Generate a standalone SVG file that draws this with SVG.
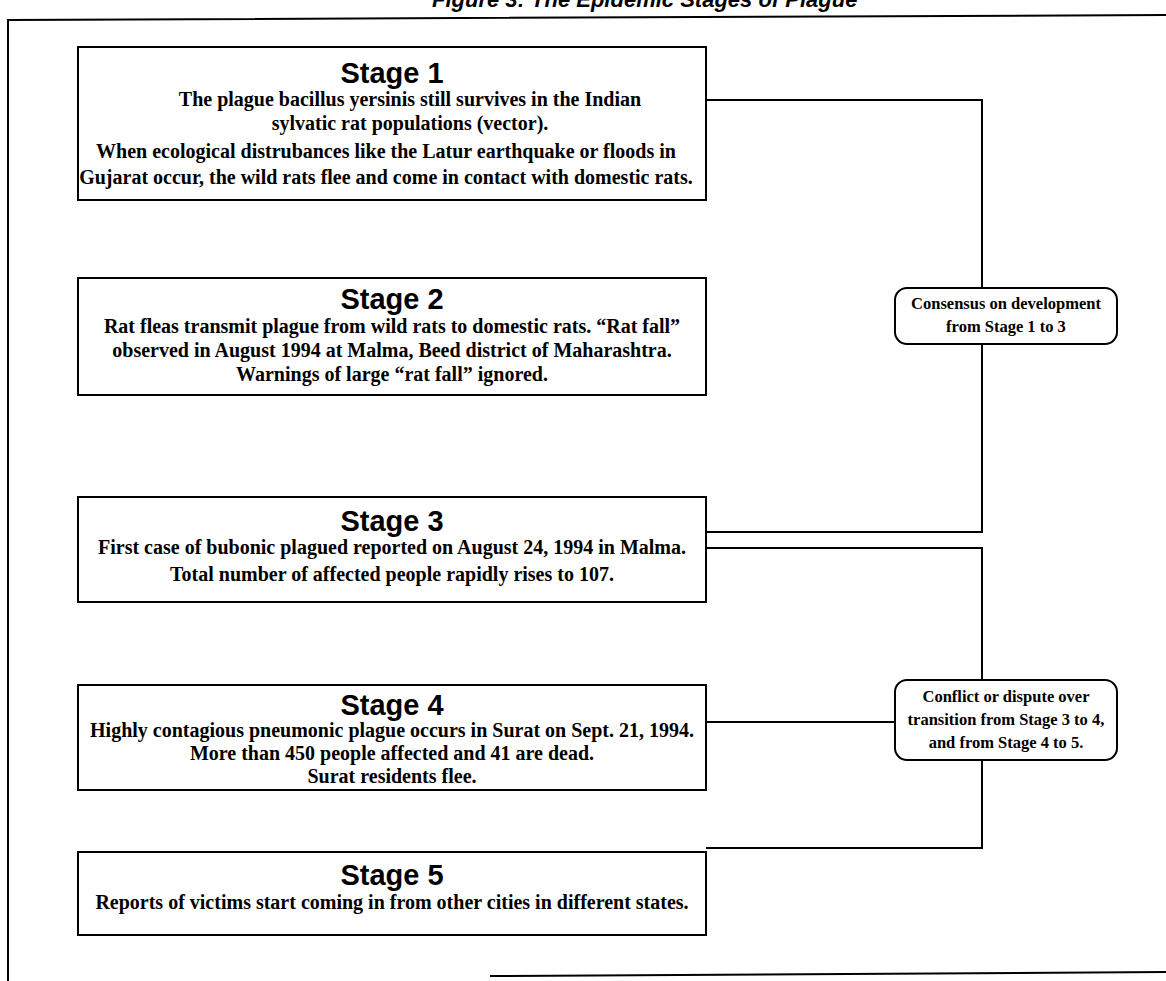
<svg xmlns="http://www.w3.org/2000/svg" width="1166" height="981" viewBox="0 0 1166 981">
<style>
.box{fill:#fff;stroke:#000;stroke-width:2}
.lbl{fill:#fff;stroke:#000;stroke-width:2}
.conn{fill:none;stroke:#000;stroke-width:2}
.hd{font-family:"Liberation Sans",Arial,sans-serif;font-weight:bold;font-size:29px;text-anchor:middle;fill:#000}
.tx{font-family:"Liberation Serif","Times New Roman",serif;font-weight:bold;font-size:20px;text-anchor:middle;fill:#000}
.sm{font-family:"Liberation Serif","Times New Roman",serif;font-weight:bold;font-size:16.5px;text-anchor:middle;fill:#000}
.ttl{font-family:"Liberation Sans",Arial,sans-serif;font-weight:bold;font-style:italic;font-size:22px;fill:#000}
</style>
<rect width="1166" height="981" fill="#fff"/>
<text class="ttl" x="432" y="7">Figure 3: The Epidemic Stages of Plague</text>
<g id="frame" class="conn">
<path d="M8,981 L8,20 L1166,15"/>
<path d="M490,976 L1166,972"/>
</g>
<g id="connectors" class="conn">
<path d="M706,100 H982 V288"/>
<path d="M982,344 V532 H706"/>
<path d="M706,548 H982 V680"/>
<path d="M706,722 H895"/>
<path d="M982,760 V848 H706"/>
</g>
<g id="stage1">
<rect class="box" x="78" y="47" width="628" height="153"/>
<text class="hd" x="392" y="83">Stage 1</text>
<text class="tx" x="410" y="106">The plague bacillus yersinis still survives in the Indian</text>
<text class="tx" x="410" y="130">sylvatic rat populations (vector).</text>
<text class="tx" x="386" y="158">When ecological distrubances like the Latur earthquake or floods in</text>
<text class="tx" x="386" y="184">Gujarat occur, the wild rats flee and come in contact with domestic rats.</text>
</g>
<g id="stage2">
<rect class="box" x="78" y="278" width="628" height="117"/>
<text class="hd" x="392" y="309">Stage 2</text>
<text class="tx" x="392" y="333">Rat fleas transmit plague from wild rats to domestic rats.  “Rat fall”</text>
<text class="tx" x="392" y="357">observed in August 1994 at Malma, Beed district of Maharashtra.</text>
<text class="tx" x="392" y="381">Warnings of large “rat fall” ignored.</text>
</g>
<g id="stage3">
<rect class="box" x="78" y="497" width="628" height="105"/>
<text class="hd" x="392" y="531">Stage 3</text>
<text class="tx" x="392" y="554">First case of bubonic plagued reported on August 24, 1994 in Malma.</text>
<text class="tx" x="392" y="581">Total number of affected people rapidly rises to 107.</text>
</g>
<g id="stage4">
<rect class="box" x="78" y="685" width="628" height="105"/>
<text class="hd" x="392" y="715">Stage 4</text>
<text class="tx" x="392" y="737">Highly contagious pneumonic plague occurs in Surat on Sept. 21, 1994.</text>
<text class="tx" x="392" y="760">More than 450 people affected and 41 are dead.</text>
<text class="tx" x="392" y="783">Surat residents flee.</text>
</g>
<g id="stage5">
<rect class="box" x="78" y="852" width="628" height="83"/>
<text class="hd" x="392" y="885">Stage 5</text>
<text class="tx" x="392" y="909">Reports of victims start coming in from other cities in different states.</text>
</g>
<g id="consensus">
<rect class="lbl" x="895" y="288" width="222" height="56" rx="12"/>
<text class="sm" x="1006" y="309">Consensus on development</text>
<text class="sm" x="1006" y="332">from Stage 1 to 3</text>
</g>
<g id="conflict">
<rect class="lbl" x="895" y="680" width="222" height="80" rx="12"/>
<text class="sm" x="1006" y="702">Conflict or dispute over</text>
<text class="sm" x="1006" y="725">transition from Stage 3 to 4,</text>
<text class="sm" x="1006" y="748">and from Stage 4 to 5.</text>
</g>
</svg>
